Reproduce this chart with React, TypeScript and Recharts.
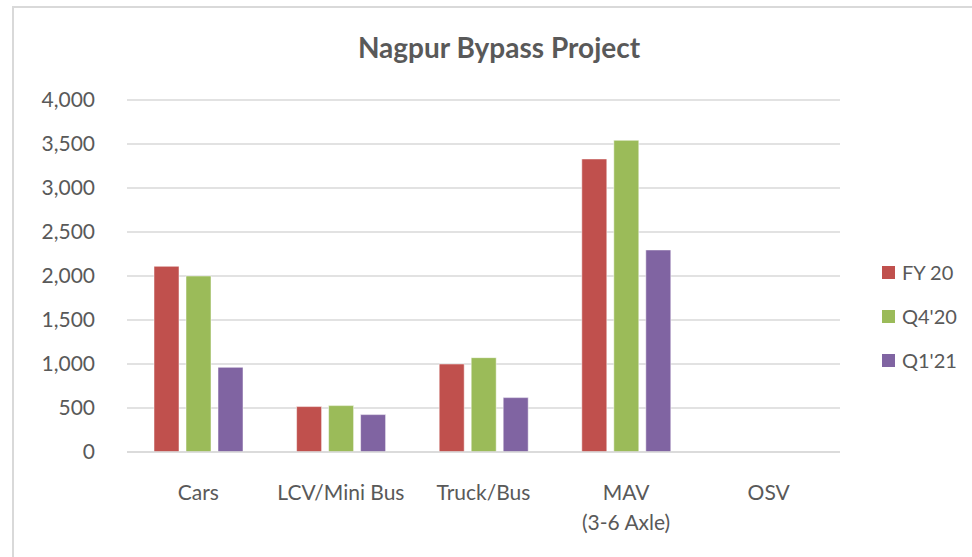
import { Bar, BarChart, CartesianGrid, XAxis, YAxis } from 'recharts';

const categories = ['Cars', 'LCV/Mini Bus', 'Truck/Bus', 'MAV\n(3-6 Axle)', 'OSV'];
const fy20 = [2110, 516, 1000, 3330, 0];
const q420 = [2000, 527, 1072, 3542, 0];
const q121 = [962, 425, 618, 2296, 0];
const yTicks = [0, 500, 1000, 1500, 2000, 2500, 3000, 3500, 4000];

const series = [
  { key: 'fy20', name: 'FY 20', color: '#C0504D' },
  { key: 'q420', name: "Q4'20", color: '#9BBB59' },
  { key: 'q121', name: "Q1'21", color: '#8064A2' }
];

const data = categories.map((name, i) => ({
  name,
  fy20: fy20[i],
  q420: q420[i],
  q121: q121[i]
}));

const FONT = 'Lato, "Open Sans", sans-serif';
const TEXT = '#595959';

function CategoryTick({ x, y, payload }: any) {
  const lines = String(payload.value).split('\n');
  return (
    <text x={x} y={y} textAnchor="middle" fill={TEXT} fontSize={21} fontFamily={FONT}>
      {lines.map((line, i) => (
        <tspan key={i} x={x} dy={i === 0 ? 40 : 30}>
          {line}
        </tspan>
      ))}
    </text>
  );
}

function LegendBox() {
  return (
    <div
      style={{
        position: 'absolute',
        left: 882,
        top: 250,
        fontFamily: FONT,
        fontSize: 20,
        color: TEXT
      }}
    >
      {series.map((s) => (
        <div key={s.key} style={{ display: 'flex', alignItems: 'center', height: 44 }}>
          <span
            style={{ width: 13, height: 13, background: s.color, marginRight: 7, display: 'inline-block' }}
          />
          {s.name}
        </div>
      ))}
    </div>
  );
}

export default function App() {
  return (
    <div
      style={{
        position: 'absolute',
        left: 0,
        top: 0,
        width: 972,
        height: 557,
        overflow: 'hidden',
        background: '#fff'
      }}
    >
      <div
        style={{
          position: 'absolute',
          left: 12,
          top: 6,
          width: 1000,
          height: 600,
          borderLeft: '2px solid #d9d9d9',
          borderTop: '2px solid #d9d9d9'
        }}
      />
      <div
        style={{
          position: 'absolute',
          left: 0,
          top: 30,
          width: 998,
          textAlign: 'center',
          fontFamily: FONT,
          fontWeight: 700,
          fontSize: 28,
          color: TEXT
        }}
      >
        Nagpur Bypass Project
      </div>
      <div style={{ position: 'absolute', left: 0, top: 0 }}>
        <BarChart
          width={972}
          height={557}
          data={data}
          margin={{ top: 100, right: 132, bottom: 0, left: 0 }}
          barSize={25}
          barGap={7}
        >
          <CartesianGrid vertical={false} stroke="#d9d9d9" strokeWidth={1.5} />
          <XAxis
            dataKey="name"
            tick={<CategoryTick />}
            tickLine={false}
            axisLine={{ stroke: '#d9d9d9', strokeWidth: 1.5 }}
            interval={0}
            height={105}
          />
          <YAxis
            width={127}
            domain={[0, 4000]}
            ticks={yTicks}
            tickFormatter={(v: number) => v.toLocaleString('en-US')}
            tick={{ fill: TEXT, fontSize: 21, fontFamily: FONT }}
            tickLine={false}
            tickSize={0}
            tickMargin={32}
            axisLine={false}
          />
          {series.map((s) => (
            <Bar
              key={s.key}
              dataKey={s.key}
              name={s.name}
              fill={s.color}
              stroke="#ffffff"
              strokeWidth={0.5}
              isAnimationActive={false}
            />
          ))}
        </BarChart>
      </div>
      <LegendBox />
    </div>
  );
}
